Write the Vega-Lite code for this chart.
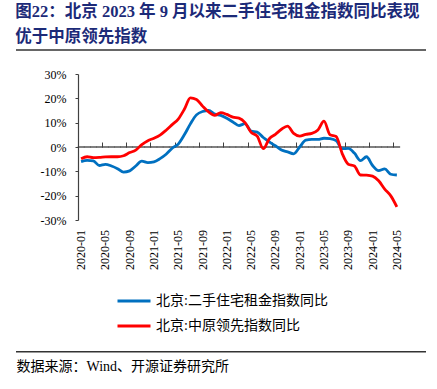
{
  "$schema": "https://vega.github.io/schema/vega-lite/v6.json",
  "padding": {"left": 15, "top": 3, "right": 5, "bottom": 5},
  "width": 410,
  "height": 146,
  "title": {"text": ["图22：北京 2023 年 9 月以来二手住宅租金指数同比表现", "优于中原领先指数"], "anchor": "start", "font": "Liberation Serif, Noto Sans CJK SC", "fontSize": 16.5, "fontWeight": "bold", "color": "#1C2A78", "lineHeight": 25, "offset": 4},
  "data": {"values": [
    {"month":"2020-01","series":"北京:二手住宅租金指数同比","value":-6.0},{"month":"2020-01","series":"北京:中原领先指数同比","value":-4.8},
    {"month":"2020-02","series":"北京:二手住宅租金指数同比","value":-5.5},{"month":"2020-02","series":"北京:中原领先指数同比","value":-4.0},
    {"month":"2020-03","series":"北京:二手住宅租金指数同比","value":-5.7},{"month":"2020-03","series":"北京:中原领先指数同比","value":-4.4},
    {"month":"2020-04","series":"北京:二手住宅租金指数同比","value":-7.6},{"month":"2020-04","series":"北京:中原领先指数同比","value":-4.3},
    {"month":"2020-05","series":"北京:二手住宅租金指数同比","value":-7.1},{"month":"2020-05","series":"北京:中原领先指数同比","value":-4.1},
    {"month":"2020-06","series":"北京:二手住宅租金指数同比","value":-7.8},{"month":"2020-06","series":"北京:中原领先指数同比","value":-4.0},
    {"month":"2020-07","series":"北京:二手住宅租金指数同比","value":-8.9},{"month":"2020-07","series":"北京:中原领先指数同比","value":-4.0},
    {"month":"2020-08","series":"北京:二手住宅租金指数同比","value":-10.3},{"month":"2020-08","series":"北京:中原领先指数同比","value":-3.6},
    {"month":"2020-09","series":"北京:二手住宅租金指数同比","value":-9.8},{"month":"2020-09","series":"北京:中原领先指数同比","value":-2.3},
    {"month":"2020-10","series":"北京:二手住宅租金指数同比","value":-7.8},{"month":"2020-10","series":"北京:中原领先指数同比","value":-1.3},
    {"month":"2020-11","series":"北京:二手住宅租金指数同比","value":-5.8},{"month":"2020-11","series":"北京:中原领先指数同比","value":1.0},
    {"month":"2020-12","series":"北京:二手住宅租金指数同比","value":-6.4},{"month":"2020-12","series":"北京:中原领先指数同比","value":2.6},
    {"month":"2021-01","series":"北京:二手住宅租金指数同比","value":-6.1},{"month":"2021-01","series":"北京:中原领先指数同比","value":3.6},
    {"month":"2021-02","series":"北京:二手住宅租金指数同比","value":-4.8},{"month":"2021-02","series":"北京:中原领先指数同比","value":4.9},
    {"month":"2021-03","series":"北京:二手住宅租金指数同比","value":-3.0},{"month":"2021-03","series":"北京:中原领先指数同比","value":6.9},
    {"month":"2021-04","series":"北京:二手住宅租金指数同比","value":-0.5},{"month":"2021-04","series":"北京:中原领先指数同比","value":9.2},
    {"month":"2021-05","series":"北京:二手住宅租金指数同比","value":1.2},{"month":"2021-05","series":"北京:中原领先指数同比","value":11.5},
    {"month":"2021-06","series":"北京:二手住宅租金指数同比","value":5.0},{"month":"2021-06","series":"北京:中原领先指数同比","value":15.5},
    {"month":"2021-07","series":"北京:二手住宅租金指数同比","value":9.5},{"month":"2021-07","series":"北京:中原领先指数同比","value":20.2},
    {"month":"2021-08","series":"北京:二手住宅租金指数同比","value":13.2},{"month":"2021-08","series":"北京:中原领先指数同比","value":19.5},
    {"month":"2021-09","series":"北京:二手住宅租金指数同比","value":14.6},{"month":"2021-09","series":"北京:中原领先指数同比","value":16.8},
    {"month":"2021-10","series":"北京:二手住宅租金指数同比","value":15.0},{"month":"2021-10","series":"北京:中原领先指数同比","value":14.4},
    {"month":"2021-11","series":"北京:二手住宅租金指数同比","value":13.5},{"month":"2021-11","series":"北京:中原领先指数同比","value":13.0},
    {"month":"2021-12","series":"北京:二手住宅租金指数同比","value":13.0},{"month":"2021-12","series":"北京:中原领先指数同比","value":14.1},
    {"month":"2022-01","series":"北京:二手住宅租金指数同比","value":11.8},{"month":"2022-01","series":"北京:中原领先指数同比","value":13.4},
    {"month":"2022-02","series":"北京:二手住宅租金指数同比","value":10.3},{"month":"2022-02","series":"北京:中原领先指数同比","value":12.3},
    {"month":"2022-03","series":"北京:二手住宅租金指数同比","value":8.8},{"month":"2022-03","series":"北京:中原领先指数同比","value":11.9},
    {"month":"2022-04","series":"北京:二手住宅租金指数同比","value":9.6},{"month":"2022-04","series":"北京:中原领先指数同比","value":10.0},
    {"month":"2022-05","series":"北京:二手住宅租金指数同比","value":6.5},{"month":"2022-05","series":"北京:中原领先指数同比","value":6.0},
    {"month":"2022-06","series":"北京:二手住宅租金指数同比","value":6.1},{"month":"2022-06","series":"北京:中原领先指数同比","value":4.5},
    {"month":"2022-07","series":"北京:二手住宅租金指数同比","value":3.9},{"month":"2022-07","series":"北京:中原领先指数同比","value":-0.7},
    {"month":"2022-08","series":"北京:二手住宅租金指数同比","value":2.1},{"month":"2022-08","series":"北京:中原领先指数同比","value":3.4},
    {"month":"2022-09","series":"北京:二手住宅租金指数同比","value":0.5},{"month":"2022-09","series":"北京:中原领先指数同比","value":5.2},
    {"month":"2022-10","series":"北京:二手住宅租金指数同比","value":-1.2},{"month":"2022-10","series":"北京:中原领先指数同比","value":7.3},
    {"month":"2022-11","series":"北京:二手住宅租金指数同比","value":-2.0},{"month":"2022-11","series":"北京:中原领先指数同比","value":8.6},
    {"month":"2022-12","series":"北京:二手住宅租金指数同比","value":-2.8},{"month":"2022-12","series":"北京:中原领先指数同比","value":5.6},
    {"month":"2023-01","series":"北京:二手住宅租金指数同比","value":0.0},{"month":"2023-01","series":"北京:中原领先指数同比","value":4.5},
    {"month":"2023-02","series":"北京:二手住宅租金指数同比","value":2.8},{"month":"2023-02","series":"北京:中原领先指数同比","value":5.2},
    {"month":"2023-03","series":"北京:二手住宅租金指数同比","value":3.1},{"month":"2023-03","series":"北京:中原领先指数同比","value":5.6},
    {"month":"2023-04","series":"北京:二手住宅租金指数同比","value":3.1},{"month":"2023-04","series":"北京:中原领先指数同比","value":7.0},
    {"month":"2023-05","series":"北京:二手住宅租金指数同比","value":3.6},{"month":"2023-05","series":"北京:中原领先指数同比","value":10.6},
    {"month":"2023-06","series":"北京:二手住宅租金指数同比","value":3.4},{"month":"2023-06","series":"北京:中原领先指数同比","value":5.0},
    {"month":"2023-07","series":"北京:二手住宅租金指数同比","value":2.6},{"month":"2023-07","series":"北京:中原领先指数同比","value":4.3},
    {"month":"2023-08","series":"北京:二手住宅租金指数同比","value":-0.7},{"month":"2023-08","series":"北京:中原领先指数同比","value":-2.7},
    {"month":"2023-09","series":"北京:二手住宅租金指数同比","value":-0.6},{"month":"2023-09","series":"北京:中原领先指数同比","value":-7.1},
    {"month":"2023-10","series":"北京:二手住宅租金指数同比","value":-2.5},{"month":"2023-10","series":"北京:中原领先指数同比","value":-7.8},
    {"month":"2023-11","series":"北京:二手住宅租金指数同比","value":-5.6},{"month":"2023-11","series":"北京:中原领先指数同比","value":-11.5},
    {"month":"2023-12","series":"北京:二手住宅租金指数同比","value":-4.0},{"month":"2023-12","series":"北京:中原领先指数同比","value":-11.6},
    {"month":"2024-01","series":"北京:二手住宅租金指数同比","value":-7.6},{"month":"2024-01","series":"北京:中原领先指数同比","value":-12.0},
    {"month":"2024-02","series":"北京:二手住宅租金指数同比","value":-9.7},{"month":"2024-02","series":"北京:中原领先指数同比","value":-13.9},
    {"month":"2024-03","series":"北京:二手住宅租金指数同比","value":-9.0},{"month":"2024-03","series":"北京:中原领先指数同比","value":-17.3},
    {"month":"2024-04","series":"北京:二手住宅租金指数同比","value":-11.2},{"month":"2024-04","series":"北京:中原领先指数同比","value":-20.1},
    {"month":"2024-05","series":"北京:二手住宅租金指数同比","value":-11.5},{"month":"2024-05","series":"北京:中原领先指数同比","value":-24.6}
  ]},
  "layer": [
    {
      "mark": {"type": "tick", "color": "#404040", "size": 6.5, "thickness": 1.2},
      "encoding": {
        "x": {"field": "month", "type": "ordinal", "sort": "ascending",
          "scale": {"type": "band", "paddingInner": 0, "paddingOuter": 0, "range": [62.05, 383.9]},
          "axis": {"orient": "bottom", "values": ["2020-01","2020-05","2020-09","2021-01","2021-05","2021-09","2022-01","2022-05","2022-09","2023-01","2023-05","2023-09","2024-01","2024-05"],
            "bandPosition": 0, "labelAngle": -90, "offset": -73, "tickSize": -5, "labelPadding": 87.5, "domain": false,
            "title": "数据来源：Wind、开源证券研究所", "titleX": 0, "titleY": 212, "titleAlign": "left", "titleAnchor": "start", "titleBaseline": "top", "titleFont": "Liberation Serif, Noto Sans CJK SC", "titleFontSize": 14, "titleFontWeight": "normal", "titleColor": "#000000"}},
        "y": {"datum": 0, "type": "quantitative",
          "scale": {"domain": [-30, 30], "nice": false, "zero": false},
          "axis": {"values": [-30,-20,-10,0,10,20,30], "labelExpr": "datum.value + '%'", "labelOverlap": false, "tickSize": 3, "labelPadding": 9, "title": null, "offset": -62, "domainWidth": 1.2}}
      }
    },
    {
      "transform": [{"aggregate": [{"op": "count", "as": "n"}]}],
      "mark": {"type": "rule", "color": "#333333", "strokeWidth": 1.5},
      "encoding": {"y": {"datum": 39.86, "type": "quantitative",
          "scale": {"domain": [-30, 30], "nice": false, "zero": false},
          "axis": {"values": [-30,-20,-10,0,10,20,30], "labelExpr": "datum.value + '%'", "labelOverlap": false, "tickSize": 3, "labelPadding": 9, "title": null, "offset": -62, "domainWidth": 1.2}}}
    },
    {
      "transform": [{"aggregate": [{"op": "count", "as": "n"}]}],
      "mark": {"type": "rule", "color": "#333333", "strokeWidth": 1.5},
      "encoding": {"y": {"datum": -84.1, "type": "quantitative",
          "scale": {"domain": [-30, 30], "nice": false, "zero": false},
          "axis": {"values": [-30,-20,-10,0,10,20,30], "labelExpr": "datum.value + '%'", "labelOverlap": false, "tickSize": 3, "labelPadding": 9, "title": null, "offset": -62, "domainWidth": 1.2}}}
    },
    {
      "mark": {"type": "line", "interpolate": "monotone", "strokeWidth": 2.8},
      "encoding": {
        "x": {"field": "month", "type": "ordinal", "sort": "ascending",
          "scale": {"type": "band", "paddingInner": 0, "paddingOuter": 0, "range": [62.05, 383.9]},
          "axis": {"orient": "bottom", "values": ["2020-01","2020-05","2020-09","2021-01","2021-05","2021-09","2022-01","2022-05","2022-09","2023-01","2023-05","2023-09","2024-01","2024-05"],
            "bandPosition": 0, "labelAngle": -90, "offset": -73, "tickSize": -5, "labelPadding": 87.5, "domain": false,
            "title": "数据来源：Wind、开源证券研究所", "titleX": 0, "titleY": 212, "titleAlign": "left", "titleAnchor": "start", "titleBaseline": "top", "titleFont": "Liberation Serif, Noto Sans CJK SC", "titleFontSize": 14, "titleFontWeight": "normal", "titleColor": "#000000"}},
        "y": {"field": "value", "type": "quantitative",
          "scale": {"domain": [-30, 30], "nice": false, "zero": false},
          "axis": {"values": [-30,-20,-10,0,10,20,30], "labelExpr": "datum.value + '%'", "labelOverlap": false, "tickSize": 3, "labelPadding": 9, "title": null, "offset": -62, "domainWidth": 1.2}},
        "color": {"field": "series", "type": "nominal",
          "scale": {"domain": ["北京:二手住宅租金指数同比", "北京:中原领先指数同比"], "range": ["#0070C0", "#FF0000"]},
          "legend": {"orient": "none", "legendX": 100, "legendY": 209, "direction": "vertical", "title": null, "symbolType": "stroke", "symbolSize": 1089, "symbolStrokeWidth": 3, "labelFont": "Liberation Serif, Noto Sans CJK SC", "labelFontSize": 14, "labelColor": "#000000", "labelLimit": 400, "rowPadding": 0, "labelOffset": 4, "padding": 0}}
      }
    }
  ],
  "config": {
    "view": {"stroke": null},
    "axis": {"domainColor": "#404040", "tickColor": "#404040", "labelColor": "#000000", "labelFont": "Liberation Serif", "labelFontSize": 12, "grid": false}
  }
}
